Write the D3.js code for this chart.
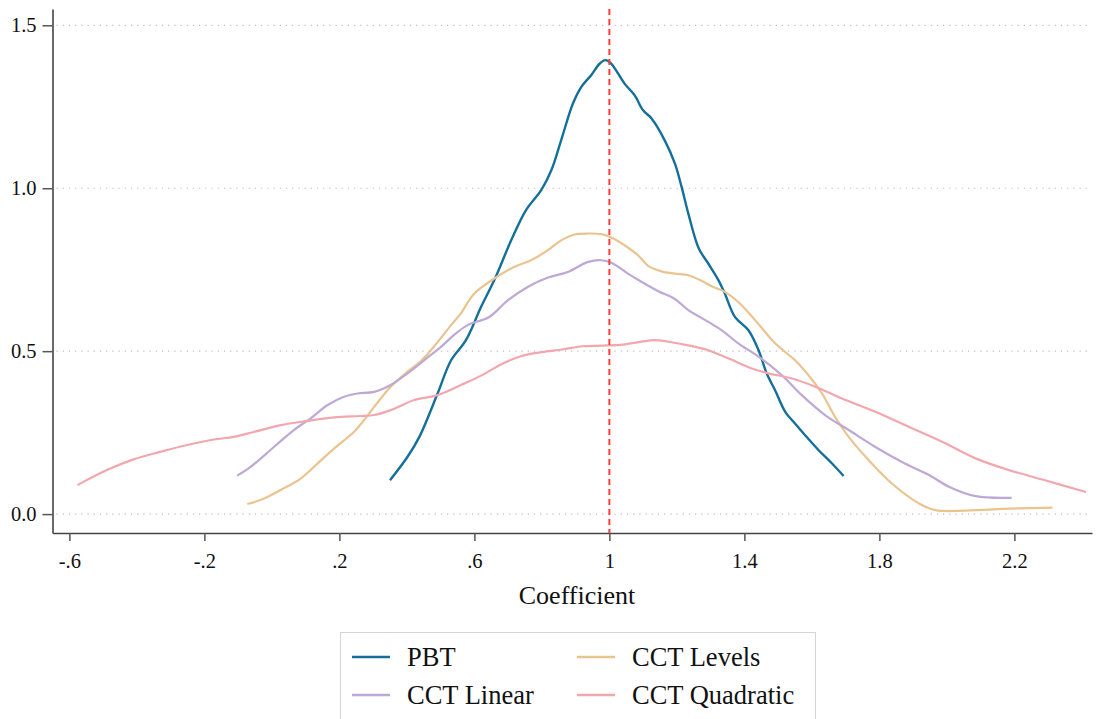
<!DOCTYPE html>
<html>
<head>
<meta charset="utf-8">
<script src="https://cdn.jsdelivr.net/npm/d3@7"></script>
<style>
  body { margin: 0; background: #fff; }
  svg { display: block; font-family: "Liberation Serif", "Times New Roman", serif; }
</style>
</head>
<body>
<div id="chart"></div>
<script>
// values
const seriesNames = ["PBT", "CCT Levels", "CCT Linear", "CCT Quadratic"];
const seriesColors = ["#14709a", "#eac48f", "#bea8d5", "#f2a7ae"];

const pbtX = [0.350, 0.402, 0.437, 0.491, 0.531, 0.575, 0.620, 0.659, 0.709, 0.753, 0.798, 0.828, 0.857, 0.892, 0.917, 0.946, 0.971, 0.988, 1.004, 1.045, 1.075, 1.100, 1.125, 1.164, 1.194, 1.214, 1.234, 1.265, 1.293, 1.323, 1.342, 1.372, 1.412, 1.442, 1.466, 1.491, 1.521, 1.550, 1.580, 1.620, 1.659, 1.694];
const pbtY = [0.104, 0.176, 0.237, 0.370, 0.472, 0.534, 0.636, 0.718, 0.840, 0.933, 0.994, 1.055, 1.147, 1.260, 1.311, 1.347, 1.382, 1.393, 1.384, 1.321, 1.285, 1.239, 1.214, 1.147, 1.076, 1.004, 0.922, 0.815, 0.769, 0.718, 0.677, 0.605, 0.564, 0.503, 0.432, 0.380, 0.314, 0.278, 0.242, 0.196, 0.156, 0.117];

const levelsX = [-0.073, -0.034, 0.026, 0.085, 0.135, 0.184, 0.243, 0.273, 0.303, 0.352, 0.402, 0.442, 0.481, 0.531, 0.560, 0.600, 0.659, 0.719, 0.768, 0.818, 0.857, 0.897, 0.937, 0.976, 1.006, 1.045, 1.085, 1.115, 1.154, 1.194, 1.234, 1.273, 1.303, 1.342, 1.382, 1.432, 1.491, 1.550, 1.590, 1.630, 1.669, 1.709, 1.768, 1.837, 1.917, 1.966, 2.085, 2.184, 2.313];
const levelsY = [0.031, 0.043, 0.074, 0.109, 0.155, 0.201, 0.252, 0.288, 0.329, 0.391, 0.437, 0.470, 0.515, 0.580, 0.616, 0.677, 0.723, 0.759, 0.779, 0.810, 0.840, 0.858, 0.861, 0.859, 0.849, 0.825, 0.794, 0.762, 0.745, 0.738, 0.733, 0.716, 0.699, 0.682, 0.651, 0.595, 0.524, 0.472, 0.426, 0.370, 0.298, 0.237, 0.166, 0.094, 0.033, 0.012, 0.012, 0.017, 0.020];

const linearX = [-0.103, -0.063, 0.006, 0.065, 0.115, 0.164, 0.214, 0.254, 0.303, 0.352, 0.402, 0.451, 0.501, 0.540, 0.580, 0.644, 0.699, 0.758, 0.818, 0.877, 0.937, 0.976, 1.006, 1.055, 1.095, 1.145, 1.194, 1.234, 1.293, 1.333, 1.382, 1.442, 1.511, 1.570, 1.639, 1.709, 1.788, 1.867, 1.947, 2.006, 2.085, 2.192];
const linearY = [0.118, 0.145, 0.206, 0.258, 0.294, 0.334, 0.360, 0.370, 0.375, 0.396, 0.432, 0.472, 0.513, 0.550, 0.580, 0.605, 0.656, 0.697, 0.726, 0.743, 0.774, 0.779, 0.771, 0.738, 0.713, 0.684, 0.660, 0.626, 0.590, 0.564, 0.524, 0.483, 0.426, 0.365, 0.304, 0.258, 0.206, 0.160, 0.120, 0.084, 0.055, 0.050];

const quadX = [-0.576, -0.489, -0.410, -0.331, -0.251, -0.172, -0.113, -0.054, 0.026, 0.105, 0.184, 0.263, 0.303, 0.352, 0.422, 0.491, 0.560, 0.620, 0.680, 0.740, 0.800, 0.860, 0.920, 0.980, 1.040, 1.095, 1.134, 1.174, 1.234, 1.293, 1.352, 1.422, 1.471, 1.541, 1.610, 1.689, 1.788, 1.887, 1.986, 2.085, 2.184, 2.283, 2.412];
const quadY = [0.089, 0.135, 0.168, 0.191, 0.212, 0.229, 0.237, 0.252, 0.273, 0.286, 0.297, 0.301, 0.304, 0.319, 0.350, 0.365, 0.396, 0.425, 0.460, 0.485, 0.497, 0.505, 0.515, 0.517, 0.520, 0.529, 0.534, 0.529, 0.518, 0.503, 0.478, 0.447, 0.432, 0.416, 0.391, 0.355, 0.314, 0.268, 0.222, 0.171, 0.135, 0.106, 0.068];

const xTicks = [-0.6, -0.2, 0.2, 0.6, 1, 1.4, 1.8, 2.2];
const xTickLabels = ["-.6", "-.2", ".2", ".6", "1", "1.4", "1.8", "2.2"];
const yTicks = [0, 0.5, 1, 1.5];
const yTickLabels = ["0.0", "0.5", "1.0", "1.5"];
const refLine = 1;

const W = 1097, H = 719;

const svg = d3.select("#chart").append("svg")
    .attr("width", W)
    .attr("height", H);

const x = d3.scaleLinear().domain([-0.65, 2.43]).range([52.5, 1092]);
const y = d3.scaleLinear().domain([-0.058, 1.55]).range([533, 9]);

// dotted gridlines
svg.append("g")
    .selectAll("line")
    .data(yTicks)
    .enter().append("line")
    .attr("x1", x.range()[0] + 4)
    .attr("x2", x.range()[1])
    .attr("y1", d => y(d))
    .attr("y2", d => y(d))
    .style("stroke", "#bdbdbd")
    .style("stroke-width", 1.2)
    .style("stroke-dasharray", "1.2,5");

// axes
const xAxis = svg.append("g")
    .attr("transform", `translate(0,${y.range()[0]})`)
    .call(d3.axisBottom(x)
        .tickValues(xTicks)
        .tickFormat((d, i) => xTickLabels[i])
        .tickSize(8)
        .tickSizeOuter(0)
        .tickPadding(12));

const yAxis = svg.append("g")
    .attr("transform", `translate(${x.range()[0]},0)`)
    .call(d3.axisLeft(y)
        .tickValues(yTicks)
        .tickFormat((d, i) => yTickLabels[i])
        .tickSize(10)
        .tickSizeOuter(0)
        .tickPadding(6));

[xAxis, yAxis].forEach(a => {
    a.select(".domain").style("stroke", "#444").style("stroke-width", 1.6);
    a.selectAll(".tick line").style("stroke", "#555").style("stroke-width", 1.5);
    a.selectAll(".tick text")
        .style("font-family", "'Liberation Serif', serif")
        .style("font-size", "20.5px")
        .style("fill", "#111");
});

svg.append("text")
    .attr("x", 577)
    .attr("y", 604)
    .attr("text-anchor", "middle")
    .style("font-size", "26px")
    .style("fill", "#111")
    .text("Coefficient");

// density curves
const series = [
    { xs: pbtX, ys: pbtY },
    { xs: levelsX, ys: levelsY },
    { xs: linearX, ys: linearY },
    { xs: quadX, ys: quadY }
];

const line = d3.line()
    .x(d => x(d[0]))
    .y(d => y(d[1]))
    .curve(d3.curveCatmullRom.alpha(0.5));

series.forEach((s, i) => {
    svg.append("path")
        .datum(s.xs.map((v, j) => [v, s.ys[j]]))
        .attr("d", line)
        .style("fill", "none")
        .style("stroke", seriesColors[i])
        .style("stroke-width", i === 0 ? 2.4 : 2.2)
        .style("stroke-linejoin", "round");
});

// reference line at 1
svg.append("line")
    .attr("x1", x(refLine))
    .attr("x2", x(refLine))
    .attr("y1", y.range()[1])
    .attr("y2", y.range()[0])
    .style("stroke", "#ff3b3b")
    .style("stroke-width", 2)
    .style("stroke-dasharray", "6,4");

// legend
const legend = svg.append("g");

legend.append("rect")
    .attr("x", 340.5)
    .attr("y", 632.5)
    .attr("width", 475)
    .attr("height", 110)
    .style("fill", "#fff")
    .style("stroke", "#d4d4d4")
    .style("stroke-width", 1);

const legendPos = [[352, 657], [577, 657], [352, 695], [577, 695]];
const legendOrder = [0, 1, 2, 3];  // PBT, Levels / Linear, Quadratic

const item = legend.selectAll(".item")
    .data(legendOrder)
    .enter().append("g")
    .attr("class", "item")
    .attr("transform", (d, i) => `translate(${legendPos[i][0]},${legendPos[i][1]})`);

item.append("line")
    .attr("x1", 0)
    .attr("x2", 38)
    .style("stroke", d => seriesColors[d])
    .style("stroke-width", 2.4);

item.append("text")
    .attr("x", 55)
    .attr("y", 9)
    .style("font-size", "26.5px")
    .style("fill", "#111")
    .text(d => seriesNames[d]);
</script>
</body>
</html>
